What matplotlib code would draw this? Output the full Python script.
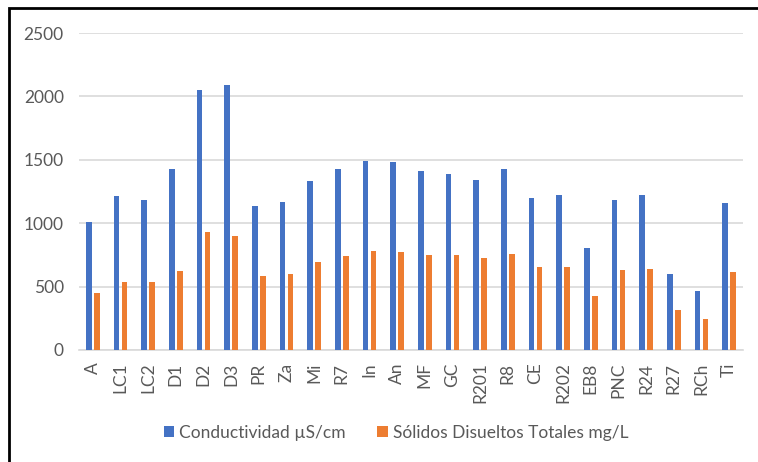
import matplotlib
matplotlib.use("Agg")
import matplotlib.pyplot as plt
import numpy as np
from matplotlib.patches import Rectangle

plt.rcParams['font.family'] = ['Lato', 'DejaVu Sans']

sitios = ["A", "LC1", "LC2", "D1", "D2", "D3", "PR", "Za", "Mi", "R7", "In", "An",
          "MF", "GC", "R201", "R8", "CE", "R202", "EB8", "PNC", "R24", "R27", "RCh", "Ti"]
conductividad = [1010, 1215, 1186, 1430, 2049, 2088, 1136, 1170, 1335, 1430, 1493, 1485,
                 1414, 1390, 1343, 1430, 1201, 1225, 805, 1186, 1225, 598, 462, 1162]
solidos = [449, 535, 535, 622, 931, 900, 582, 598, 693, 742, 779, 771,
           748, 748, 727, 758, 653, 653, 425, 630, 637, 312, 241, 614]

azul = "#4472C4"
naranja = "#ED7D31"
gris = "#595959"

fig = plt.figure(figsize=(7.58, 4.62), dpi=100)
ax = fig.add_axes([79 / 758, 1 - 350 / 462, 664 / 758, 317 / 462])

x = np.arange(len(sitios))
w = 0.205
ax.bar(x - 0.145, conductividad, w, color=azul, label="Conductividad µS/cm", zorder=3)
ax.bar(x + 0.145, solidos, w, color=naranja, label="Sólidos Disueltos Totales mg/L", zorder=3)

ax.set_xlim(-0.5, len(sitios) - 0.5)
ax.set_ylim(0, 2500)
ax.set_yticks(range(0, 2501, 500))
ax.set_xticks(x)
ax.set_xticklabels(sitios, rotation=90)
ax.tick_params(axis='both', length=0, labelsize=12.5, colors=gris)
ax.tick_params(axis='y', pad=11)
ax.tick_params(axis='x', pad=9)

ax.grid(axis='y', color="#D9D9D9", linewidth=1.2, zorder=0)
for s in ["top", "right", "left"]:
    ax.spines[s].set_visible(False)
ax.spines["bottom"].set_color("#D9D9D9")
ax.spines["bottom"].set_linewidth(1.2)

leg = fig.legend(loc="center", bbox_to_anchor=(396 / 758, 1 - 433 / 462), ncol=2,
                 frameon=False, fontsize=12.5, handlelength=0.6, handleheight=0.6,
                 handletextpad=0.3, columnspacing=1.8)
for t in leg.get_texts():
    t.set_color(gris)

# marco negro de la figura
fig.patches.append(Rectangle((9 / 758, -0.1), 1.2, 1 - 8 / 462 + 0.1, transform=fig.transFigure,
                             fill=False, edgecolor="black", linewidth=2))

fig.savefig("out.png", dpi=100)
